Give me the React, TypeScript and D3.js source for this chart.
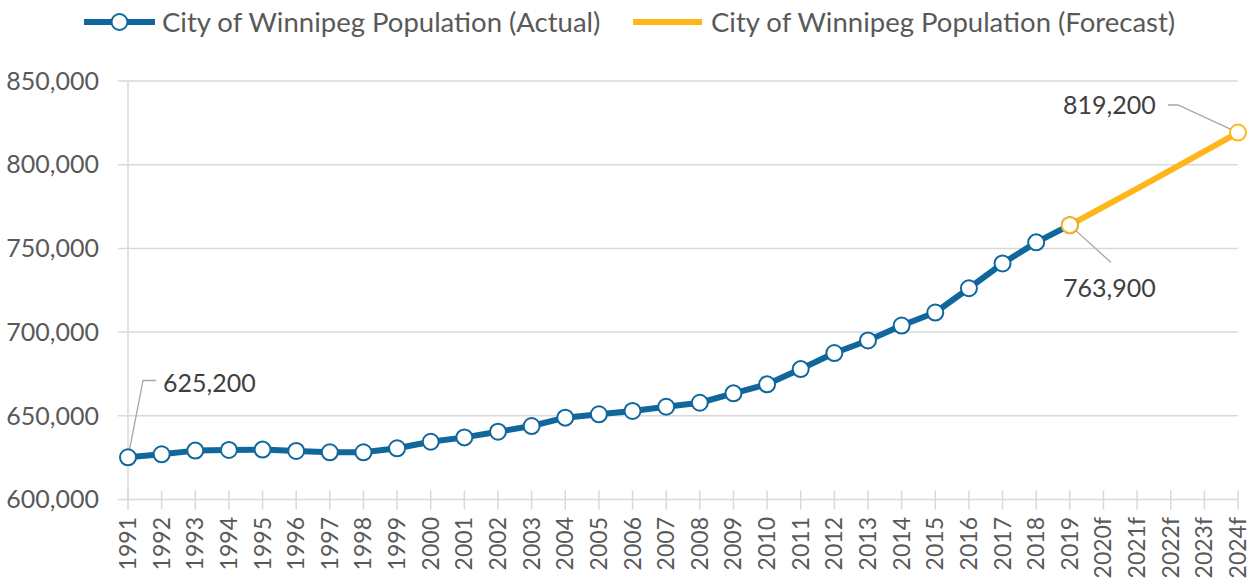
import React from 'react';
import * as d3 from 'd3';

const categories = [
  '1991', '1992', '1993', '1994', '1995', '1996', '1997', '1998', '1999', '2000',
  '2001', '2002', '2003', '2004', '2005', '2006', '2007', '2008', '2009', '2010',
  '2011', '2012', '2013', '2014', '2015', '2016', '2017', '2018', '2019',
  '2020f', '2021f', '2022f', '2023f', '2024f',
];

// actual population 1991-2019
const actualValues = [
  625200, 627000, 629200, 629600, 629800, 629000, 628200, 628200, 630600, 634500,
  637100, 640500, 643900, 648900, 650900, 652900, 655400, 657800, 663400, 668800,
  677900, 687500, 695000, 703900, 711700, 726200, 741000, 753600, 763900,
];

// forecast 2019-2024f
const forecastCategories = ['2019', '2020f', '2021f', '2022f', '2023f', '2024f'];
const forecastValues = [763900, 774800, 785700, 796800, 808000, 819200];
const forecastMarked = ['2019', '2024f'];

const yTicks = [600000, 650000, 700000, 750000, 800000, 850000];

const seriesNames = ['City of Winnipeg Population (Actual)', 'City of Winnipeg Population (Forecast)'];

const BLUE = '#10679c';
const ORANGE = '#fdb71a';
const GRID = '#d9d9d9';
const FONT = 'Lato, "Noto Sans", sans-serif';

export default function App() {
  const width = 1259;
  const height = 585;

  const x = d3.scalePoint<string>().domain(categories).range([128, 1238]).padding(0);
  const y = d3.scaleLinear().domain([600000, 850000]).range([499.5, 81]);
  const fmt = d3.format(',');

  const actualPts = actualValues.map((v, i) => [x(categories[i])!, y(v)] as [number, number]);
  const forecastPts = forecastValues.map((v, i) => [x(forecastCategories[i])!, y(v)] as [number, number]);
  const line = d3.line();

  const xLeft = x(categories[0])!;
  const xRight = x(categories[categories.length - 1])!;
  const yBottom = y(600000);

  // data label leader lines
  const p1991 = [x('1991')!, y(actualValues[0])];
  const p2019 = [x('2019')!, y(763900)];
  const p2024 = [x('2024f')!, y(819200)];

  return (
    <svg
      width={width}
      height={height}
      style={{ position: 'absolute', left: 0, top: 0, background: '#fff', fontFamily: FONT }}
    >
      {/* gridlines + y axis labels */}
      {yTicks.map((t) => (
        <g key={t}>
          <line x1={xLeft - 10} x2={xRight} y1={y(t)} y2={y(t)} stroke={GRID} strokeWidth={1.5} />
          <text x={99} y={y(t)} dy="0.35em" textAnchor="end" fontSize={25} fill="#595959">
            {fmt(t)}
          </text>
        </g>
      ))}
      <line x1={xLeft} x2={xLeft} y1={81} y2={yBottom} stroke={GRID} strokeWidth={1.5} />

      {/* x ticks + labels */}
      {categories.map((c) => (
        <g key={c}>
          <line x1={x(c)} x2={x(c)} y1={yBottom - 9} y2={yBottom + 10} stroke={GRID} strokeWidth={1.5} />
          <text
            transform={`translate(${x(c)! + 8},517) rotate(-90)`}
            textAnchor="end"
            fontSize={23}
            fill="#595959"
          >
            {c}
          </text>
        </g>
      ))}

      {/* forecast line */}
      <path d={line(forecastPts)!} fill="none" stroke={ORANGE} strokeWidth={6} strokeLinejoin="round" />
      {/* actual line */}
      <path d={line(actualPts)!} fill="none" stroke={BLUE} strokeWidth={6} strokeLinejoin="round" />

      {/* leader lines */}
      <polyline
        points={`${p1991[0]},${p1991[1]} ${143},${380.5} ${156},${380.5}`}
        fill="none" stroke="#a6a6a6" strokeWidth={1.3}
      />
      <polyline
        points={`${p2019[0]},${p2019[1]} ${1111},${262.5}`}
        fill="none" stroke="#a6a6a6" strokeWidth={1.3}
      />
      <polyline
        points={`${1168},${105} ${1178},${105} ${p2024[0]},${p2024[1]}`}
        fill="none" stroke="#a6a6a6" strokeWidth={1.3}
      />

      {/* markers */}
      {actualPts.map(([px, py], i) => (
        <circle key={i} cx={px} cy={py} r={8} fill="#fff" stroke={BLUE} strokeWidth={2} />
      ))}
      {forecastCategories.map((c, i) =>
        forecastMarked.includes(c) ? (
          <circle key={c} cx={forecastPts[i][0]} cy={forecastPts[i][1]} r={8} fill="#fff" stroke={ORANGE} strokeWidth={2} />
        ) : null
      )}

      {/* data labels */}
      <text x={163} y={383} dy="0.35em" fontSize={25} fill="#404040">{fmt(actualValues[0])}</text>
      <text x={1063} y={288} dy="0.35em" fontSize={25} fill="#404040">{fmt(763900)}</text>
      <text x={1063} y={105} dy="0.35em" fontSize={25} fill="#404040">{fmt(819200)}</text>

      {/* legend */}
      <g>
        <line x1={84} x2={155} y1={22} y2={22} stroke={BLUE} strokeWidth={6} />
        <circle cx={119.5} cy={22} r={8} fill="#fff" stroke={BLUE} strokeWidth={2} />
        <text x={162} y={22} dy="0.35em" fontSize={27.5} fill="#595959">{seriesNames[0]}</text>
        <line x1={633} x2={702} y1={22} y2={22} stroke={ORANGE} strokeWidth={6} />
        <text x={711} y={22} dy="0.35em" fontSize={27.5} fill="#595959">{seriesNames[1]}</text>
      </g>
    </svg>
  );
}
